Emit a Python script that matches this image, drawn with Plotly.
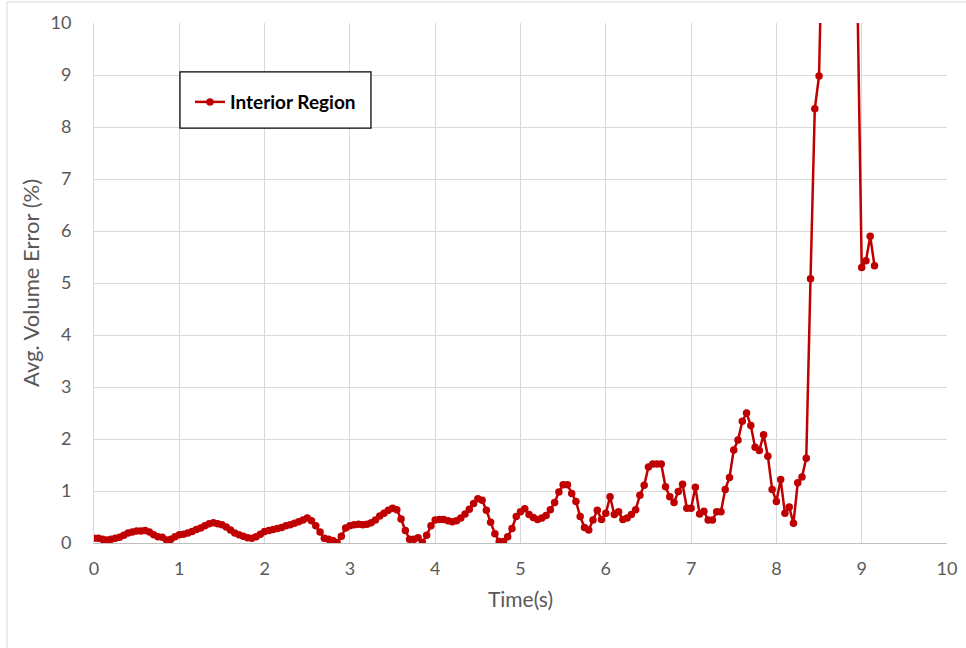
import plotly.graph_objects as go

# Sample times (s) of the interior-region volume error record
time_s = [
    0.00, 0.05, 0.10, 0.15, 0.20, 0.25, 0.30, 0.35, 0.40, 0.45,
    0.50, 0.55, 0.60, 0.65, 0.70, 0.75, 0.80, 0.85, 0.90, 0.95,
    1.00, 1.05, 1.10, 1.15, 1.20, 1.25, 1.30, 1.35, 1.40, 1.45,
    1.50, 1.55, 1.60, 1.65, 1.70, 1.75, 1.80, 1.85, 1.90, 1.95,
    2.00, 2.05, 2.10, 2.15, 2.20, 2.25, 2.30, 2.35, 2.40, 2.45,
    2.50, 2.55, 2.60, 2.65, 2.70, 2.75, 2.80, 2.85, 2.90, 2.95,
    3.00, 3.05, 3.10, 3.15, 3.20, 3.25, 3.30, 3.35, 3.40, 3.45,
    3.50, 3.55, 3.60, 3.65, 3.70, 3.75, 3.80, 3.85, 3.90, 3.95,
    4.00, 4.05, 4.10, 4.15, 4.20, 4.25, 4.30, 4.35, 4.40, 4.45,
    4.50, 4.55, 4.60, 4.65, 4.70, 4.75, 4.80, 4.85, 4.90, 4.95,
    5.00, 5.05, 5.10, 5.15, 5.20, 5.25, 5.30, 5.35, 5.40, 5.45,
    5.50, 5.55, 5.60, 5.65, 5.70, 5.75, 5.80, 5.85, 5.90, 5.95,
    6.00, 6.05, 6.10, 6.15, 6.20, 6.25, 6.30, 6.35, 6.40, 6.45,
    6.50, 6.55, 6.60, 6.65, 6.70, 6.75, 6.80, 6.85, 6.90, 6.95,
    7.00, 7.05, 7.10, 7.15, 7.20, 7.25, 7.30, 7.35, 7.40, 7.45,
    7.50, 7.55, 7.60, 7.65, 7.70, 7.75, 7.80, 7.85, 7.90, 7.95,
    8.00, 8.05, 8.10, 8.15, 8.20, 8.25, 8.30, 8.35, 8.40, 8.45,
    8.50, 8.55, 8.60, 8.65, 8.70, 8.75, 8.80, 8.85, 8.90, 8.95,
    9.00, 9.05, 9.10, 9.15,
]

# Average volume error (%) at each sample time
volume_error_pct = [
    0.09, 0.09, 0.07, 0.06, 0.07, 0.09, 0.11, 0.15, 0.19, 0.21,
    0.23, 0.23, 0.24, 0.21, 0.16, 0.12, 0.11, 0.06, 0.07, 0.12,
    0.16, 0.17, 0.19, 0.22, 0.26, 0.29, 0.33, 0.37, 0.39, 0.37,
    0.35, 0.31, 0.25, 0.19, 0.16, 0.13, 0.10, 0.09, 0.12, 0.17,
    0.22, 0.24, 0.26, 0.28, 0.30, 0.33, 0.35, 0.38, 0.41, 0.44,
    0.48, 0.43, 0.33, 0.21, 0.09, 0.07, 0.05, 0.01, 0.13, 0.29,
    0.33, 0.35, 0.36, 0.35, 0.36, 0.39, 0.44, 0.52, 0.57, 0.63,
    0.67, 0.64, 0.46, 0.24, 0.07, 0.07, 0.10, 0.01, 0.15, 0.33,
    0.44, 0.45, 0.45, 0.43, 0.41, 0.43, 0.48, 0.56, 0.65, 0.76,
    0.85, 0.82, 0.63, 0.40, 0.18, 0.03, 0.03, 0.12, 0.28, 0.51,
    0.60, 0.66, 0.55, 0.49, 0.45, 0.48, 0.53, 0.64, 0.78, 0.98,
    1.12, 1.12, 0.95, 0.80, 0.51, 0.30, 0.25, 0.44, 0.63, 0.45,
    0.57, 0.89, 0.55, 0.60, 0.45, 0.48, 0.55, 0.64, 0.92, 1.11,
    1.46, 1.52, 1.52, 1.52, 1.08, 0.89, 0.78, 0.99, 1.13, 0.67,
    0.67, 1.07, 0.56, 0.61, 0.44, 0.44, 0.60, 0.60, 1.03, 1.26,
    1.79, 1.98, 2.34, 2.50, 2.26, 1.84, 1.78, 2.08, 1.67, 1.03,
    0.80, 1.22, 0.57, 0.69, 0.38, 1.16, 1.27, 1.63, 5.08, 8.35,
    8.98, 13.3, 18.5, 23.0, 26.5, 28.0, 25.5, 21.0, 15.5, 10.8,
    5.30, 5.43, 5.90, 5.33,
]

x_ticks = [0, 1, 2, 3, 4, 5, 6, 7, 8, 9, 10]
y_ticks = [0, 1, 2, 3, 4, 5, 6, 7, 8, 9, 10]

SERIES_RED = "#c00000"
TEXT_GREY = "#595959"
GRID_GREY = "#d9d9d9"
FONT = "Lato, Carlito, Calibri, sans-serif"

fig = go.Figure()
fig.add_trace(go.Scatter(
    x=time_s,
    y=volume_error_pct,
    mode="lines+markers",
    name="Interior Region",
    line=dict(color=SERIES_RED, width=2.5),
    marker=dict(color=SERIES_RED, size=7.5, symbol="circle"),
))

axis_common = dict(
    range=[0, 10],
    showgrid=True,
    gridcolor=GRID_GREY,
    gridwidth=1,
    zeroline=False,
    ticks="",
    tickfont=dict(family=FONT, size=18, color=TEXT_GREY),
    fixedrange=True,
)

fig.update_xaxes(
    **axis_common,
    tickvals=x_ticks,
    ticktext=[str(v) for v in x_ticks],
    showline=True, linecolor="#bfbfbf", linewidth=1,
    ticklabelstandoff=9,
    title=dict(text="Time(s)", font=dict(family=FONT, size=21, color=TEXT_GREY),
               standoff=14),
)
fig.update_yaxes(
    **axis_common,
    tickvals=y_ticks,
    ticktext=[str(v) for v in y_ticks],
    showline=True, linecolor=GRID_GREY, linewidth=1,
    ticklabelstandoff=18,
    title=dict(text="Avg. Volume Error (%)", font=dict(family=FONT, size=22, color=TEXT_GREY),
               standoff=4),
)

# Legend frame and outer chart border
fig.add_shape(type="rect", xref="paper", yref="paper",
              x0=0.1008, x1=0.3247, y0=0.798, y1=0.9058,
              line=dict(color="black", width=1.25), fillcolor="white", layer="above")
fig.add_shape(type="line", xref="paper", yref="paper",
              x0=-0.102, x1=-0.102, y0=1.0404, y1=-0.3,
              line=dict(color=GRID_GREY, width=1))
fig.add_shape(type="line", xref="paper", yref="paper",
              x0=-0.102, x1=1.1, y0=1.0404, y1=1.0404,
              line=dict(color=GRID_GREY, width=1))

fig.update_layout(
    width=966, height=648,
    margin=dict(l=94, r=19, t=23, b=105, autoexpand=False),
    paper_bgcolor="white",
    plot_bgcolor="white",
    font=dict(family=FONT, color=TEXT_GREY),
    showlegend=True,
    legend=dict(
        x=0.1125, y=0.848, xanchor="left", yanchor="middle",
        bgcolor="rgba(0,0,0,0)", borderwidth=0,
        font=dict(family=FONT, size=19, color="black", weight="bold"),
        itemwidth=30,
    ),
)

fig.write_html("out.html")
